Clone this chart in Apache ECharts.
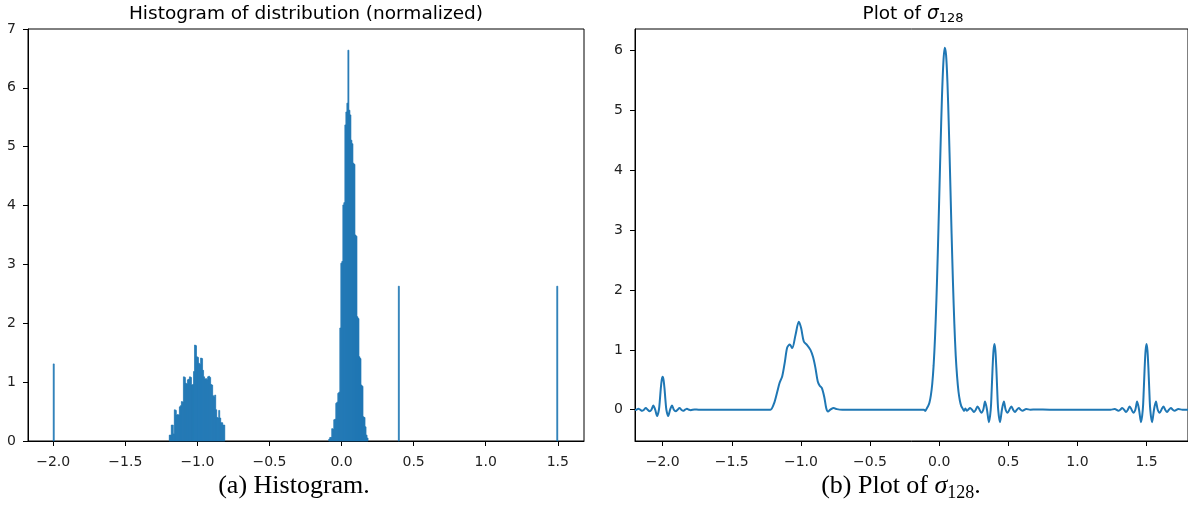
<!DOCTYPE html>
<html>
<head>
<meta charset="utf-8">
<script src="https://cdn.jsdelivr.net/npm/echarts@6/dist/echarts.min.js"></script>
<style>
html,body{margin:0;padding:0;background:#fff;}
#chart{width:1188px;height:525px;}
</style>
</head>
<body>
<div id="chart"></div>
<script>
// ---------- DATA ----------
// Histogram (density) : 500 bins over [-2, 1.5]
const histBinMin = -2.0;
const histBinWidth = 0.007;
const spikeBinIndex = [0, 342, 499];
const spikeHeights = [1.31, 2.63, 2.63];
const negClusterFirstBin = 115;
const negClusterHeights = [0.10,0.10,0.27,0.27,0.12,0.53,0.52,0.44,0.45,0.44,
  0.58,0.60,0.67,0.66,1.09,1.08,0.98,0.97,1.04,1.05,
  1.09,1.08,0.95,0.96,1.18,1.63,1.62,1.43,1.42,1.32,
  1.30,1.41,1.40,1.20,1.09,1.05,1.06,1.04,1.09,1.10,
  1.08,0.96,0.95,0.77,0.75,0.78,0.53,0.40,0.39,0.52,
  0.39,0.31,0.31,0.27,0.27];
const zeroClusterFirstBin = 273;
const zeroClusterHeights = [0.03,0.06,0.06,0.21,0.20,0.36,0.37,0.64,0.66,0.81,
  0.83,1.92,3.02,3.05,4.01,4.05,5.37,5.59,5.74,6.64,
  5.62,5.54,5.11,5.05,4.72,4.70,3.50,3.48,2.11,2.08,
  1.43,1.40,0.95,0.93,0.41,0.40,0.24,0.10,0.05];

// sigma_128 curve
const sigmaX = [-2.2,-2.19,-2.176,-2.162,-2.149,-2.135,-2.122,-2.108,-2.095,-2.081,-2.068,-2.054,-2.04,-2.027,-2.02,-2.0135,-2.0068,-2.0,
  -1.9932,-1.9865,-1.98,-1.973,-1.96,-1.946,-1.932,-1.919,-1.905,-1.892,-1.878,-1.865,-1.851,-1.838,-1.824,-1.81,-1.797,-1.77,-1.74,
  -1.6,-1.45,-1.3,-1.25,
  -1.22,-1.195,-1.171,-1.154,-1.135,-1.116,-1.099,-1.08,-1.063,-1.039,-1.015,-0.998,-0.979,-0.955,-0.931,-0.912,-0.895,-0.878,-0.864,-0.848,-0.83,-0.817,-0.804,-0.787,-0.763,-0.74,
  -0.7,-0.5,-0.3,-0.15,
  -0.11,-0.10,-0.09,-0.08,-0.07,-0.06,-0.05,-0.04,-0.03,-0.02,-0.01,0.0,0.01,0.02,0.03,0.04,0.05,0.06,0.07,0.08,0.09,0.10,0.11,0.12,0.13,0.14,0.15,0.16,0.17,0.18,0.19,
  0.2,0.21,0.224,0.238,0.251,0.265,0.278,0.292,0.305,0.319,0.332,0.346,0.36,0.373,0.38,0.3865,0.3932,0.4,
  0.4068,0.4135,0.42,0.427,0.44,0.454,0.468,0.481,0.495,0.508,0.522,0.535,0.549,0.562,0.576,0.59,0.603,0.63,0.66,0.7,
  0.8,0.95,1.1,1.2,1.24,
  1.27,1.297,1.31,1.324,1.338,1.351,1.365,1.378,1.392,1.405,1.419,1.432,1.446,1.46,1.473,1.48,1.4865,1.4932,1.5,
  1.5068,1.5135,1.52,1.527,1.54,1.554,1.568,1.581,1.595,1.608,1.622,1.635,1.649,1.662,1.676,1.69,1.703,1.73,1.76,1.8];
const sigmaY = [-0.005,0,0.014,0,-0.019,0,0.028,0,-0.025,0,0.069,0,-0.105,0,0.165,0.352,0.495,0.55,
  0.495,0.352,0.165,0,-0.105,0,0.069,0,-0.025,0,0.028,0,-0.019,0,0.014,0,-0.008,0.005,0,
  0,0,0,0,
  0.0,0.1,0.3,0.45,0.56,0.8,1.04,1.09,1.03,1.25,1.47,1.36,1.14,1.08,1.0,0.88,0.7,0.47,0.4,0.36,0.2,0.03,-0.03,0.0,0.03,0.01,
  0,0,0,0,
  0.0,-0.02,0.02,0.06,0.12,0.24,0.43,0.74,1.2,1.82,2.6,3.49,4.39,5.2,5.78,6.05,5.93,5.47,4.73,3.85,2.94,2.12,1.43,0.9,0.55,0.3,0.15,0.06,0.02,-0.02,0.02,
  -0.017,0,0.028,0,-0.039,0,0.055,0,-0.05,0,0.138,0,-0.21,0,0.33,0.7,0.99,1.1,
  0.99,0.7,0.33,0,-0.21,0,0.138,0,-0.05,0,0.055,0,-0.039,0,0.028,0,-0.017,0.011,0,0.005,
  0,0,0,0,0,
  0.011,-0.017,0,0.028,0,-0.039,0,0.055,0,-0.05,0,0.138,0,-0.21,0,0.33,0.7,0.99,1.1,
  0.99,0.7,0.33,0,-0.21,0,0.138,0,-0.05,0,0.055,0,-0.039,0,0.028,0,-0.017,0.011,0,0];

// Axis ticks
const xTickValues = [-2.0,-1.5,-1.0,-0.5,0.0,0.5,1.0,1.5];
const histYTicks = [0,1,2,3,4,5,6,7];
const sigmaYTicks = [0,1,2,3,4,5,6];

// ---------- BUILD ----------
const histData = [];
function addBins(first, heights) {
  heights.forEach((h, i) => {
    const x0 = histBinMin + (first + i) * histBinWidth;
    histData.push([x0, x0 + histBinWidth, h]);
  });
}
spikeBinIndex.forEach((b, i) => addBins(b, [spikeHeights[i]]));
addBins(negClusterFirstBin, negClusterHeights);
addBins(zeroClusterFirstBin, zeroClusterHeights);

const sigmaData = sigmaX.map((x, i) => [x, sigmaY[i]]);

const BLUE = '#1f77b4';
const TICK_FONT = 'DejaVu Sans';
const fmtX = v => (v < 0 ? '\u2212' : '') + Math.abs(v).toFixed(1);

function xAxisCfg(gridIndex, min, max) {
  return {
    type: 'value', gridIndex, min, max,
    axisLine: {show: true, onZero: false, lineStyle: {color: '#000', width: 1}},
    axisTick: {show: true, length: 5, customValues: xTickValues, lineStyle: {color: '#000', width: 1}},
    axisLabel: {customValues: xTickValues, formatter: fmtX, color: '#222', fontFamily: TICK_FONT, fontSize: 14, margin: 14},
    splitLine: {show: false}
  };
}
function yAxisCfg(gridIndex, min, max, ticks) {
  return {
    type: 'value', gridIndex, min, max,
    axisLine: {show: true, onZero: false, lineStyle: {color: '#000', width: 1}},
    axisTick: {show: true, length: 5, customValues: ticks, lineStyle: {color: '#000', width: 1}},
    axisLabel: {customValues: ticks, formatter: v => String(Math.round(v)), color: '#222', fontFamily: TICK_FONT, fontSize: 14, margin: 12},
    splitLine: {show: false}
  };
}

const chart = echarts.init(document.getElementById('chart'), null, {renderer: 'canvas'});
chart.setOption({
  animation: false,
  backgroundColor: '#fff',
  grid: [
    {left: 28, top: 29, width: 556, height: 412, show: true, borderColor: '#000', borderWidth: 1, backgroundColor: 'transparent', containLabel: false},
    {left: 635, top: 29, width: 557, height: 412, show: true, borderColor: '#000', borderWidth: 1, backgroundColor: 'transparent', containLabel: false}
  ],
  xAxis: [xAxisCfg(0, -2.175, 1.682), xAxisCfg(1, -2.2, 1.8)],
  yAxis: [yAxisCfg(0, 0, 7, histYTicks), yAxisCfg(1, -0.523, 6.363, sigmaYTicks)],
  series: [
    {
      type: 'custom', xAxisIndex: 0, yAxisIndex: 0,
      encode: {x: [0, 1], y: 2},
      data: histData,
      renderItem: function (params, api) {
        const p0 = api.coord([api.value(0), api.value(2)]);
        const p1 = api.coord([api.value(1), 0]);
        return {
          type: 'rect',
          shape: {x: p0[0], y: p0[1], width: p1[0] - p0[0], height: p1[1] - p0[1]},
          style: {fill: BLUE, stroke: BLUE, lineWidth: 0.7}
        };
      }
    },
    {
      type: 'line', xAxisIndex: 1, yAxisIndex: 1,
      data: sigmaData, showSymbol: false, smooth: 0.3, clip: true,
      lineStyle: {color: BLUE, width: 2}
    }
  ],
  graphic: [
    {type: 'text', style: {text: 'Histogram of distribution (normalized)', x: 306, y: 14, align: 'center', verticalAlign: 'middle', font: '18.5px "DejaVu Sans"', fill: '#000'}},
    {type: 'text', style: {
      text: '{a|Plot of }{s|σ}{b|128}', x: 913, y: 14, align: 'center', verticalAlign: 'middle',
      rich: {
        a: {fontFamily: 'DejaVu Sans', fontSize: 18.5, lineHeight: 22, verticalAlign: 'middle', fill: '#000'},
        s: {fontFamily: 'DejaVu Sans', fontStyle: 'italic', fontSize: 18.5, lineHeight: 22, verticalAlign: 'middle', fill: '#000'},
        b: {fontFamily: 'DejaVu Sans', fontSize: 13, lineHeight: 9, verticalAlign: 'bottom', fill: '#000'}
      }
    }},
    {type: 'text', style: {text: '(a) Histogram.', x: 294, y: 486, align: 'center', verticalAlign: 'middle', font: '26px "Liberation Serif"', fill: '#000'}},
    {type: 'text', style: {
      text: '{a|(b) Plot of }{s|σ}{b|128}{a|.}', x: 901, y: 486, align: 'center', verticalAlign: 'middle',
      rich: {
        a: {fontFamily: 'Liberation Serif', fontSize: 26, lineHeight: 32, verticalAlign: 'middle', fill: '#000'},
        s: {fontFamily: 'Liberation Serif', fontStyle: 'italic', fontSize: 26, lineHeight: 32, verticalAlign: 'middle', fill: '#000'},
        b: {fontFamily: 'Liberation Serif', fontSize: 18, lineHeight: 13, verticalAlign: 'bottom', fill: '#000'}
      }
    }}
  ]
});
</script>
</body>
</html>
